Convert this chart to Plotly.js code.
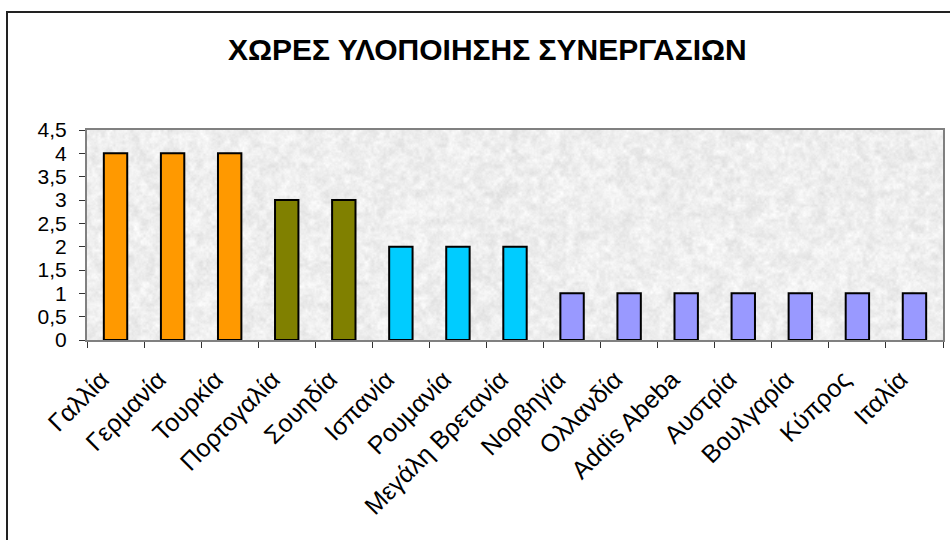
<!DOCTYPE html>
<html>
<head>
<meta charset="utf-8">
<script src="https://cdn.plot.ly/plotly-3.0.1.min.js"></script>
<style>
html,body{margin:0;padding:0;background:#fff;}
#chart{width:950px;height:540px;}
</style>
</head>
<body>
<div id="chart"></div>
<script>
// Data
const countries = ["Γαλλία","Γερμανία","Τουρκία","Πορτογαλία","Σουηδία","Ισπανία","Ρουμανία","Μεγάλη Βρετανία","Νορβηγία","Ολλανδία","Addis Abeba","Αυστρία","Βουλγαρία","Κύπρος","Ιταλία"];
const cooperations = [4,4,4,3,3,2,2,2,1,1,1,1,1,1,1];
const yTickValues = [0,0.5,1,1.5,2,2.5,3,3.5,4,4.5];
const chartTitle = "ΧΩΡΕΣ ΥΛΟΠΟΙΗΣΗΣ ΣΥΝΕΡΓΑΣΙΩΝ";

// Styles
const barColors = ["#FF9900","#FF9900","#FF9900","#808000","#808000","#00CCFF","#00CCFF","#00CCFF","#9999FF","#9999FF","#9999FF","#9999FF","#9999FF","#9999FF","#9999FF"];
const FONT = "Arial, 'Liberation Sans', sans-serif";

const mL = 87, mR = 7, mT = 130, mB = 200;
const pw = 950 - mL - mR, ph = 540 - mT - mB;

// Decorative mottled plot-area texture (deterministic hash noise, style only)
function makeTexture(w, h) {
  const c = document.createElement("canvas");
  c.width = w; c.height = h;
  const ctx = c.getContext("2d");
  const img = ctx.createImageData(w, h);
  function hash(i, j, s) {
    let n = Math.imul(i, 374761393) ^ Math.imul(j, 668265263) ^ Math.imul(s, 982451653);
    n = Math.imul(n ^ (n >>> 13), 1274126177);
    n = n ^ (n >>> 16);
    return (n >>> 0) / 4294967295;
  }
  function sm(t) { return t * t * (3 - 2 * t); }
  function noise(x, y, cell, s) {
    const gx = x / cell, gy = y / cell;
    const i = Math.floor(gx), j = Math.floor(gy);
    const fx = sm(gx - i), fy = sm(gy - j);
    const a = hash(i, j, s), b = hash(i + 1, j, s), cc = hash(i, j + 1, s), d = hash(i + 1, j + 1, s);
    return (a * (1 - fx) + b * fx) * (1 - fy) + (cc * (1 - fx) + d * fx) * fy;
  }
  for (let y = 0; y < h; y++) {
    for (let x = 0; x < w; x++) {
      const v = 0.45 * noise(x, y, 7, 1) + 0.35 * noise(x, y, 3, 2) + 0.2 * noise(x, y, 1.5, 3);
      const g = Math.round(220 + v * 36);
      const k = (y * w + x) * 4;
      img.data[k] = g; img.data[k + 1] = g; img.data[k + 2] = g; img.data[k + 3] = 255;
    }
  }
  ctx.putImageData(img, 0, 0);
  return c.toDataURL("image/png");
}

const trace = {
  type: "bar",
  x: countries,
  y: cooperations,
  width: 0.41,
  marker: {color: barColors, line: {color: "#000", width: 2}},
  hoverinfo: "x+y"
};

const layout = {
  width: 950, height: 540,
  margin: {l: mL, r: mR, t: mT, b: mB, pad: 0},
  paper_bgcolor: "#ffffff",
  plot_bgcolor: "#ececec",
  separators: ",.",
  showlegend: false,
  font: {family: FONT, color: "#000"},
  title: {
    text: "<b>" + chartTitle + "</b>",
    font: {family: FONT, size: 30, color: "#000"},
    x: 0.513, xanchor: "center", xref: "container",
    y: 1 - 49/540, yanchor: "middle", yref: "container"
  },
  xaxis: {
    type: "category",
    tickangle: -45,
    tickfont: {family: FONT, size: 25, color: "#000"},
    ticks: "outside", ticklen: 6, tickcolor: "#333", tickwidth: 1,
    tickson: "boundaries",
    showline: true, linecolor: "#808080", linewidth: 2, mirror: true,
    showgrid: false, zeroline: false,
    ticklabelstandoff: 13,
    ticklabelshift: -14,
    range: [-0.5, 14.5]
  },
  yaxis: {
    range: [0, 4.5],
    tickvals: yTickValues,
    tickfont: {family: FONT, size: 21, color: "#000"},
    ticks: "outside", ticklen: 6, tickcolor: "#333", tickwidth: 1,
    showline: true, linecolor: "#808080", linewidth: 2, mirror: true,
    showgrid: false, zeroline: false,
    ticklabelstandoff: 8
  },
  images: [{
    source: makeTexture(pw, ph),
    xref: "paper", yref: "paper",
    x: 0, y: 1, sizex: 1, sizey: 1,
    xanchor: "left", yanchor: "top",
    sizing: "stretch", layer: "below"
  }],
  shapes: [{
    type: "rect", xref: "paper", yref: "paper",
    x0: (7 - mL) / pw, x1: 1.2,
    y0: -1.5, y1: (340 - 12) / ph,
    line: {color: "#222", width: 2},
    fillcolor: "rgba(0,0,0,0)",
    layer: "below"
  }]
};

Plotly.newPlot("chart", [trace], layout, {staticPlot: true, displayModeBar: false});
</script>
</body>
</html>
